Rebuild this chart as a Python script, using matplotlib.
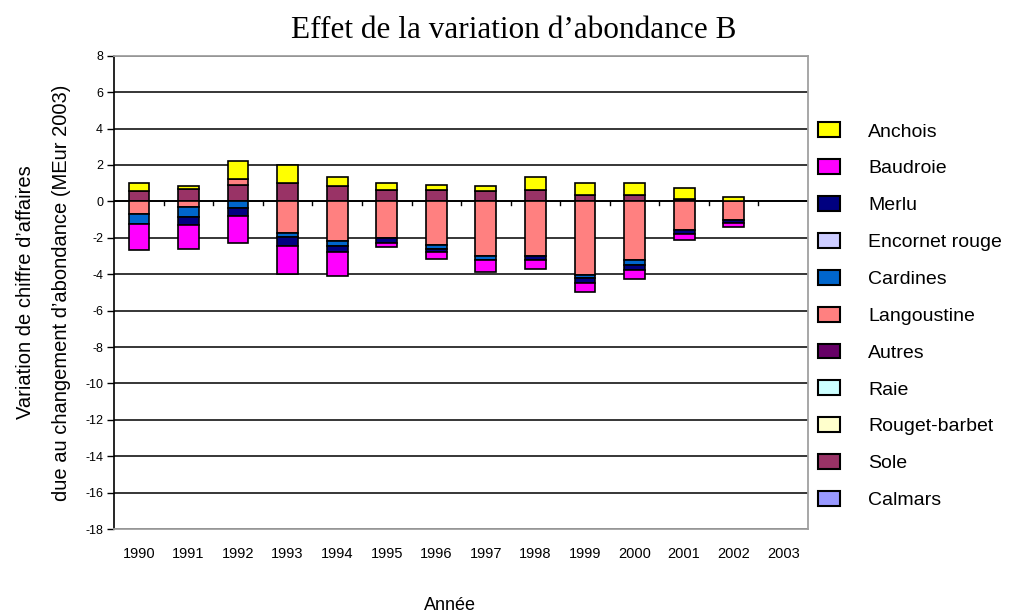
import numpy as np
import matplotlib
matplotlib.use("Agg")
import matplotlib.pyplot as plt
from matplotlib.patches import Patch

years = ["1990", "1991", "1992", "1993", "1994", "1995", "1996",
         "1997", "1998", "1999", "2000", "2001", "2002", "2003"]

# Effect of abundance change per species (MEur 2003)
anchois       = [0.44, 0.13, 0.99, 0.97, 0.52, 0.37, 0.27, 0.27, 0.70, 0.64, 0.64, 0.60, 0.24, 0]
baudroie      = [-1.45, -1.32, -1.46, -1.52, -1.30, -0.24, -0.37, -0.66, -0.47, -0.51, -0.51, -0.33, -0.22, 0]
merlu         = [0, -0.42, -0.46, -0.49, -0.35, -0.27, -0.18, 0, -0.22, -0.27, -0.27, -0.22, -0.15, 0]
encornet      = [0, 0, 0, 0, 0, 0, 0, 0, 0, 0, 0, 0, 0, 0]
cardines      = [-0.55, -0.55, -0.36, -0.24, -0.27, 0, -0.22, -0.22, 0, -0.18, -0.27, 0, 0, 0]
langoustine   = [-0.69, -0.33, 0.33, -1.74, -2.16, -2.01, -2.38, -3.02, -3.02, -4.03, -3.21, -1.56, -1.04, 0]
autres        = [0, 0, 0, 0, 0, 0, 0, 0, 0, 0, 0, 0, 0, 0]
raie          = [0, 0, 0, 0, 0, 0, 0, 0, 0, 0, 0, 0, 0, 0]
rouget        = [0, 0, 0, 0, 0, 0, 0, 0, 0, 0, 0, 0, 0, 0]
sole          = [0.57, 0.70, 0.92, 1.01, 0.82, 0.64, 0.64, 0.55, 0.64, 0.37, 0.37, 0.13, 0, 0]
calmars       = [0, 0, 0, 0, 0, 0, 0, 0, 0, 0, 0, 0, 0, 0]

# legend order (top to bottom); stacking goes the other way, from zero outward
series = [
    ("Anchois", anchois, "#FFFF00"),
    ("Baudroie", baudroie, "#FF00FF"),
    ("Merlu", merlu, "#000080"),
    ("Encornet rouge", encornet, "#CCCCFF"),
    ("Cardines", cardines, "#0066CC"),
    ("Langoustine", langoustine, "#FF8080"),
    ("Autres", autres, "#660066"),
    ("Raie", raie, "#CCFFFF"),
    ("Rouget-barbet", rouget, "#FFFFCC"),
    ("Sole", sole, "#993366"),
    ("Calmars", calmars, "#9999FF"),
]

plt.rcParams["font.family"] = ["Liberation Sans", "DejaVu Sans"]

fig = plt.figure(figsize=(10.10, 6.13), dpi=100)
ax = fig.add_axes([0.113, 0.137, 0.687, 0.772])

x = np.arange(len(years))
pos_base = np.zeros(len(years))
neg_base = np.zeros(len(years))
for name, vals, color in reversed(series):
    v = np.asarray(vals, dtype=float)
    bottom = np.where(v >= 0, pos_base, neg_base)
    lw = np.where(v != 0, 1.2, 0.0)
    ax.bar(x, v, bottom=bottom, width=0.42, color=color,
           edgecolor="black", linewidth=lw, zorder=3)
    pos_base += np.where(v > 0, v, 0)
    neg_base += np.where(v < 0, v, 0)

ax.set_xlim(-0.5, len(years) - 0.5)
ax.set_ylim(-18, 8)
ax.set_yticks(np.arange(-18, 9, 2))
ax.set_yticklabels([str(t) for t in range(-18, 9, 2)], fontsize=9)
ax.yaxis.grid(True, color="black", linewidth=1.1, zorder=1)
ax.tick_params(axis="y", direction="out", length=5, width=1, pad=3, color="black")

# x ticks as labels only; category separators drawn on the zero line
ax.set_xticks(x)
ax.set_xticklabels(years, fontsize=10.5)
ax.tick_params(axis="x", length=0, pad=13)
for xm in np.arange(0.5, len(years) - 0.5, 1):
    ax.plot([xm, xm], [0, -0.22], color="black", linewidth=1, zorder=2)
ax.axhline(0, color="black", linewidth=1.3, zorder=2)

for side in ("top", "right", "bottom"):
    ax.spines[side].set_color("#A0A0A0")
    ax.spines[side].set_linewidth(1.3)
ax.spines["left"].set_color("black")
ax.spines["left"].set_linewidth(1.2)

ax.set_xlabel("Année", fontsize=13, labelpad=26)
ax.xaxis.label.set_x(0.484)
ax.set_ylabel("Variation de chiffre d’affaires\ndue au changement d’abondance (MEur 2003)",
              fontsize=14.5, labelpad=10, linespacing=2.15)

fig.text(0.509, 0.950, "Effet de la variation d’abondance B",
         ha="center", va="center", fontsize=22.5, family="Liberation Serif")

handles = [Patch(facecolor=c, edgecolor="black", linewidth=1.5) for _, _, c in series]
fig.legend(handles, [n for n, _, _ in series], loc="upper left",
           bbox_to_anchor=(0.802, 0.813), frameon=False, fontsize=14,
           handlelength=1.15, handleheight=0.8, handletextpad=1.45,
           labelspacing=0.96, borderaxespad=0)

fig.savefig("out.png", dpi=100)
